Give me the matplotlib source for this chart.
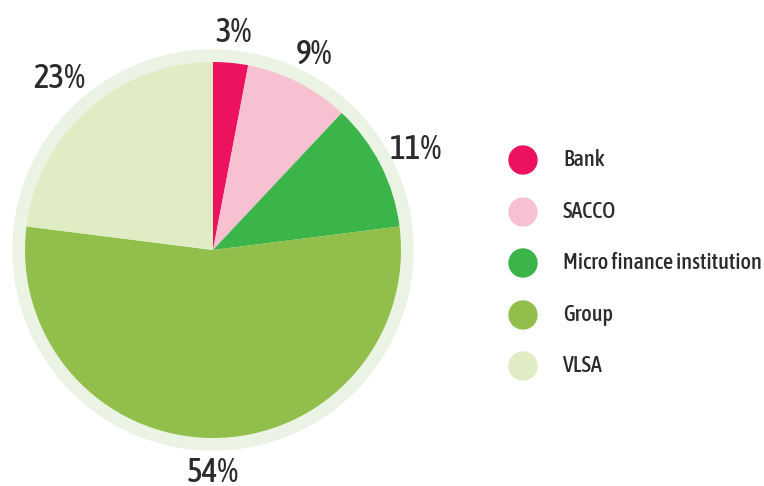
import numpy as np
import matplotlib
matplotlib.use("Agg")
import matplotlib.pyplot as plt
from matplotlib.patches import Circle
from matplotlib import font_manager
from matplotlib.font_manager import FontProperties

categories = ["Bank", "SACCO", "Micro finance institution", "Group", "VLSA"]
shares = [3, 9, 11, 54, 23]
colors = ["#ED1260", "#F7C1D2", "#3BB54A", "#92BF4B", "#E0ECC4"]
ring_color = "#EBF4E4"
text_color = "#2B2B2B"

W, H = 764, 486
fig = plt.figure(figsize=(W / 100, H / 100), dpi=100)
ax = fig.add_axes([0, 0, 1, 1])
renderer = fig.canvas.get_renderer()


def weight_of(f):
    if isinstance(f.weight, int):
        return f.weight
    return 700 if "bold" in str(f.weight) else 400


def condensed_sans(target_weight):
    """Pick a plain condensed sans-serif face near the wanted weight."""
    best = None
    for f in font_manager.fontManager.ttflist:
        key = (f.fname + " " + f.name).lower()
        if "condensed" not in key and str(f.stretch) != "condensed":
            continue
        if any(s in key for s in ("extra", "ultra", "semi", "italic",
                                  "oblique", "mono", "display", "cjk")):
            continue
        if "serif" in key and "sans" not in key:
            continue
        if "slab" in key:
            continue
        score = abs(weight_of(f) - target_weight)
        if best is None or score < best[0]:
            best = (score, f.fname)
    if best:
        return FontProperties(fname=best[1])
    return FontProperties(family="DejaVu Sans",
                          weight="bold" if target_weight >= 600 else "normal")


text_fp = condensed_sans(500)

cx, cy, r = 213, 236, 188
ax.add_patch(Circle((cx, cy), 200, color=ring_color, zorder=0))
wedges, _ = ax.pie(shares, colors=colors, startangle=90, counterclock=False,
                   center=(cx, cy), radius=r, frame=True,
                   wedgeprops=dict(linewidth=0))
ax.set_xlim(0, W)
ax.set_ylim(0, H)
ax.set_aspect("equal")
ax.axis("off")


def fit_size(text_obj, target_px, start):
    """Shrink a text until its rendered width is at most target_px."""
    size = start
    text_obj.set_fontsize(size)
    while size > 8:
        if text_obj.get_window_extent(renderer).width <= target_px:
            break
        size -= 0.5
        text_obj.set_fontsize(size)
    return size


# percentage labels sit just outside the ring, baseline-aligned
label_pos = [1.176, 1.186, 1.213, 1.166, 1.239]
for w, v, k in zip(wedges, shares, label_pos):
    mid = np.deg2rad((w.theta1 + w.theta2) / 2)
    d = r * k
    t = ax.text(cx + d * np.cos(mid), cy + d * np.sin(mid) - 12.5, f"{v}%",
                ha="center", va="baseline", color=text_color,
                fontproperties=text_fp)
    t.set_fontsize(24)

ys = [326, 274, 223, 171, 120]
leg_texts = []
for y, c, name in zip(ys, colors, categories):
    ax.add_patch(Circle((523, y), 14, color=c))
    t = ax.text(563, y, name, ha="left", va="center",
                color=text_color, fontproperties=text_fp)
    leg_texts.append(t)
gsize = fit_size(leg_texts[2], 199, 18)
for t in leg_texts:
    t.set_fontsize(gsize)

fig.savefig("out.png", dpi=100)
